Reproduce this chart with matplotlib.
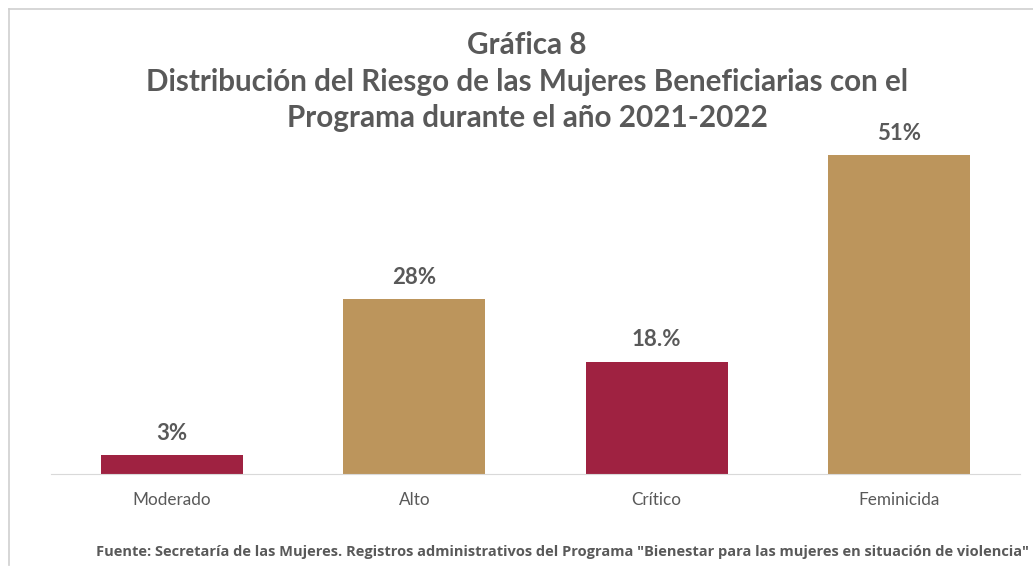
import matplotlib.pyplot as plt
from matplotlib.lines import Line2D

categorias = ["Moderado", "Alto", "Crítico", "Feminicida"]
porcentajes = [3, 28, 18, 51]
etiquetas = ["3%", "28%", "18.%", "51%"]
colores = ["#9F2241", "#BC955C", "#9F2241", "#BC955C"]

titulo = ["Gráfica 8",
          "Distribución del Riesgo de las Mujeres Beneficiarias con el",
          "Programa durante el año 2021-2022"]
fuente = ('Fuente: Secretaría de las Mujeres. Registros administrativos del Programa '
          '"Bienestar para las mujeres en situación de violencia"')

gris = "#595959"

fig = plt.figure(figsize=(10.33, 5.70), dpi=100)
ax = fig.add_axes([51 / 1033, 96 / 570, 969 / 1033, 375 / 570])

x = range(len(categorias))
barras = ax.bar(x, porcentajes, width=0.586, color=colores)

# etiquetas de valor encima de cada barra
for b, txt in zip(barras, etiquetas):
    ax.annotate(txt, (b.get_x() + b.get_width() / 2, b.get_height()),
                xytext=(0, 8), textcoords="offset points", ha="center", va="bottom",
                fontsize=16, fontweight="bold", color=gris, family="Lato")

ax.set_xlim(-0.5, len(categorias) - 0.5)
ax.set_ylim(0, 60)
ax.set_xticks(list(x))
ax.set_xticklabels(categorias, fontsize=12.3, color=gris, family="Lato")
ax.tick_params(axis="x", length=0, pad=13)
ax.set_yticks([])
for s in ["top", "right", "left"]:
    ax.spines[s].set_visible(False)
ax.spines["bottom"].set_color("#D9D9D9")

# titulo en tres renglones, uno por texto
for i, linea in enumerate(titulo):
    fig.text(527 / 1033, 1 - (42 + 37 * i) / 570, linea, ha="center", va="center_baseline",
             fontsize=21.3, fontweight="bold", color=gris, family="Lato")
fig.text(1029 / 1033, 1 - 552 / 570, fuente, ha="right", va="center", fontsize=10.5,
         fontweight="bold", color=gris, family="Open Sans")

# marco gris del recuadro original
fig.add_artist(Line2D([9 / 1033, 1], [1 - 9 / 570, 1 - 9 / 570], color="#CFCFCF", lw=1.2,
                      transform=fig.transFigure))
fig.add_artist(Line2D([9 / 1033, 9 / 1033], [1 - 9 / 570, 1 - 565 / 570], color="#CFCFCF",
                      lw=1.2, transform=fig.transFigure))

fig.savefig("out.png", dpi=100)
